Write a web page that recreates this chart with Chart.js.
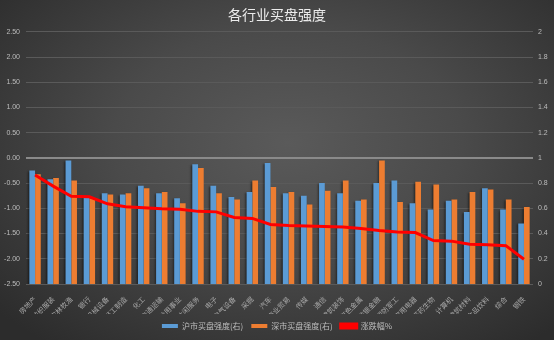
<!DOCTYPE html>
<html>
<head>
<meta charset="utf-8">
<script src="https://cdn.jsdelivr.net/npm/chart.js@4"></script>
<style>
  html, body { margin: 0; padding: 0; }
  body {
    width: 554px; height: 340px; overflow: hidden;
    background: radial-gradient(ellipse 70% 75% at 52% 42%, #5a5a5a 0%, #4a4a4a 45%, #2c2c2c 100%);
  }
  #wrap { position: relative; width: 554px; height: 340px; }
</style>
</head>
<body>
<div id="wrap"><canvas id="myChart" width="554" height="340"></canvas></div>
<script>
const industries = ['房地产', '纺织服装', '农林牧渔', '银行', '机械设备', '轻工制造', '化工', '交通运输', '公用事业', '休闲服务',
    '电子', '电气设备', '采掘', '汽车', '商业贸易', '传媒', '通信', '建筑装饰', '有色金属', '非银金融',
    '国防军工', '家用电器', '医药生物', '计算机', '建筑材料', '食品饮料', '综合', '钢铁'];
const shBuy = [0.90, 0.83, 0.98, 0.69, 0.72, 0.71, 0.78, 0.72, 0.68, 0.95,
    0.78, 0.69, 0.73, 0.96, 0.72, 0.70, 0.80, 0.72, 0.66, 0.80,
    0.82, 0.64, 0.59, 0.66, 0.57, 0.76, 0.59, 0.48];
const szBuy = [0.87, 0.84, 0.82, 0.68, 0.71, 0.72, 0.76, 0.73, 0.64, 0.92,
    0.72, 0.67, 0.82, 0.77, 0.73, 0.63, 0.74, 0.82, 0.67, 0.98,
    0.65, 0.81, 0.79, 0.67, 0.73, 0.75, 0.67, 0.61];
const pctChange = [-0.34, -0.56, -0.76, -0.77, -0.91, -0.97, -0.99, -1.01, -1.02, -1.06,
    -1.07, -1.18, -1.20, -1.32, -1.34, -1.35, -1.36, -1.37, -1.40, -1.44,
    -1.47, -1.48, -1.64, -1.65, -1.71, -1.72, -1.74, -2.01];
const leftTicks = [-2.5, -2, -1.5, -1, -0.5, 0, 0.5, 1, 1.5, 2, 2.5];
const rightTicks = [0, 0.2, 0.4, 0.6, 0.8, 1, 1.2, 1.4, 1.6, 1.8, 2];

const cjk = "'Noto Sans CJK SC', sans-serif";
const tickColor = '#bdbdbd';

// soft drop shadow under the bar series
const barShadow = {
    id: 'barShadow',
    beforeDatasetDraw(chart, args) {
        if (args.meta.type !== 'bar') return;
        const c = chart.ctx;
        c.save();
        c.shadowColor = 'rgba(0, 0, 0, 0.45)';
        c.shadowBlur = 2;
        c.shadowOffsetX = -1.5;
        c.shadowOffsetY = 1;
    },
    afterDatasetDraw(chart, args) {
        if (args.meta.type !== 'bar') return;
        chart.ctx.restore();
    }
};

var ctx = document.getElementById('myChart');

var myChart = new Chart(ctx, { // eslint-disable-line
    type: 'bar',
    data: {
        labels: industries,
        datasets: [
            {
                label: '沪市买盘强度(右)',
                data: shBuy,
                backgroundColor: '#5b9bd5',
                yAxisID: 'y1',
                order: 1
            },
            {
                label: '深市买盘强度(右)',
                data: szBuy,
                backgroundColor: '#ed7d31',
                yAxisID: 'y1',
                order: 2
            },
            {
                type: 'line',
                label: '涨跌幅%',
                data: pctChange,
                borderColor: '#ff0000',
                backgroundColor: '#ff0000',
                borderWidth: 3,
                pointRadius: 0,
                tension: 0,
                yAxisID: 'y',
                order: 0
            }
        ]
    },
    plugins: [barShadow],
    options: {
        responsive: false,
        animation: false,
        devicePixelRatio: 1,
        layout: { padding: 0 },
        datasets: {
            bar: { barPercentage: 1, categoryPercentage: 0.63 }
        },
        plugins: {
            title: {
                display: true,
                text: '各行业买盘强度',
                color: '#ececec',
                font: { family: cjk, size: 14, weight: 'normal' },
                padding: { top: 6, bottom: 9 }
            },
            legend: {
                position: 'bottom',
                labels: {
                    color: tickColor,
                    font: { family: cjk, size: 8 },
                    boxWidth: 16,
                    boxHeight: 4,
                    padding: 8,
                    sort: (a, b) => a.datasetIndex - b.datasetIndex
                }
            },
            tooltip: { enabled: false }
        },
        scales: {
            x: {
                grid: { display: false },
                border: { display: false },
                ticks: {
                    color: '#a8a8a8',
                    font: { family: cjk, size: 7 },
                    minRotation: 45,
                    maxRotation: 45,
                    autoSkip: false,
                    padding: 3
                },
                afterFit: (axis) => { axis.height = 30; }
            },
            y: {
                position: 'left',
                min: -2.5,
                max: 2.5,
                afterBuildTicks: (axis) => { axis.ticks = leftTicks.map(v => ({ value: v })); },
                grid: {
                    drawTicks: false,
                    color: (c) => c.tick && c.tick.value === 0 ? '#8a8a8a' : '#5a5a5a',
                    lineWidth: (c) => c.tick && c.tick.value === 0 ? 2 : 1
                },
                border: { display: false },
                ticks: {
                    color: tickColor,
                    font: { family: 'Liberation Sans', size: 7 },
                    padding: 6,
                    callback: (v) => v.toFixed(2)
                },
                afterFit: (axis) => { axis.width = 26; }
            },
            y1: {
                position: 'right',
                min: 0,
                max: 2,
                afterBuildTicks: (axis) => { axis.ticks = rightTicks.map(v => ({ value: v })); },
                grid: { display: false, drawTicks: false },
                border: { display: false },
                ticks: {
                    color: tickColor,
                    font: { family: 'Liberation Sans', size: 7 },
                    padding: 5,
                    callback: (v) => String(+v.toFixed(1))
                },
                afterFit: (axis) => { axis.width = 21; }
            }
        }
    }
});
</script>
</body>
</html>
